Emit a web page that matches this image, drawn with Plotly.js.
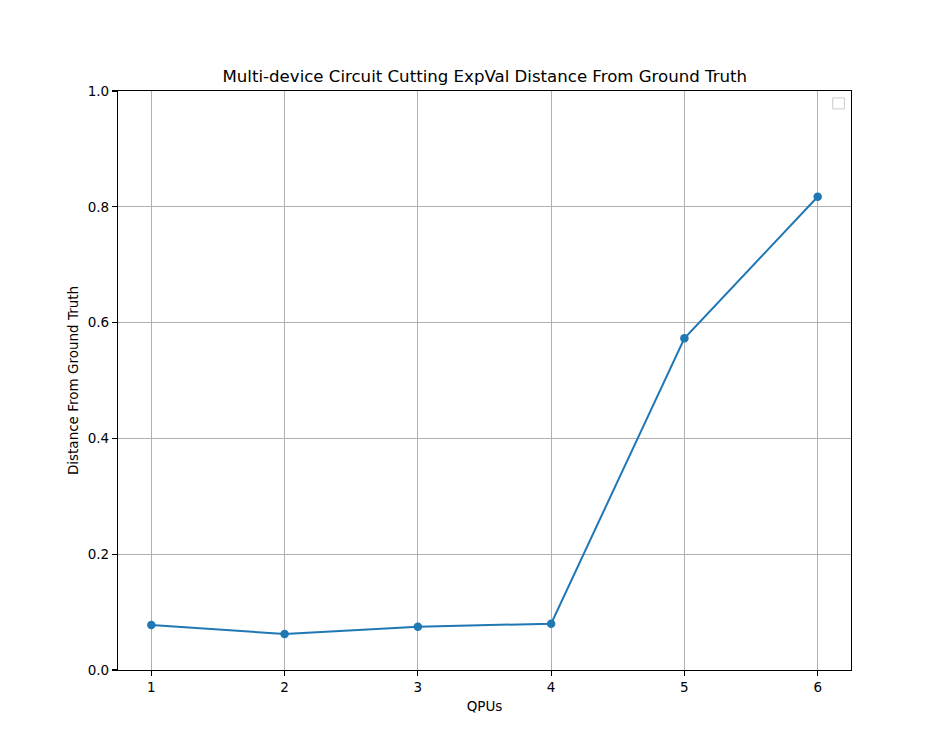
<!DOCTYPE html>
<html>
<head>
<meta charset="utf-8">
<script src="https://cdn.plot.ly/plotly-3.0.1.min.js"></script>
<style>
  html, body { margin: 0; padding: 0; background: #fff; }
  #myDiv { width: 946px; height: 752px; }
</style>
</head>
<body>
<div id="myDiv"></div>
<script>
// Datos
var qpus = [1, 2, 3, 4, 5, 6];
var distancia = [0.0777, 0.0621, 0.0748, 0.0800, 0.5730, 0.8173];

var trace = {
    x: qpus,
    y: distancia,
    mode: 'lines+markers',
    line: { color: '#1f77b4', width: 2 },
    marker: { color: '#1f77b4', size: 8.5 },
    showlegend: false
};

var ejeComun = {
    showline: true,
    linecolor: '#000',
    linewidth: 1.1,
    mirror: true,
    ticks: 'outside',
    ticklen: 5,
    tickwidth: 1.1,
    tickcolor: '#000',
    showgrid: true,
    gridcolor: '#b0b0b0',
    gridwidth: 1.1,
    zeroline: false,
    tickfont: { size: 13.5, color: '#000' }
};

var layout = {
    width: 946,
    height: 752,
    paper_bgcolor: '#fff',
    plot_bgcolor: '#fff',
    font: { family: 'DejaVu Sans, sans-serif', color: '#000' },
    margin: { l: 118, r: 95, t: 91, b: 82 },
    title: {
        text: 'Multi-device Circuit Cutting ExpVal Distance From Ground Truth',
        font: { size: 16.6, color: '#000' },
        x: 0.5125, xanchor: 'center',
        y: 1 - 76 / 752, yanchor: 'middle'
    },
    xaxis: Object.assign({}, ejeComun, {
        range: [0.75, 6.25],
        tickvals: qpus,
        ticktext: qpus.map(String),
        title: { text: 'QPUs', font: { size: 13.5 }, standoff: 7 }
    }),
    yaxis: Object.assign({}, ejeComun, {
        range: [0, 1],
        dtick: 0.2,
        tickformat: '.1f',
        title: { text: 'Distance From Ground Truth', font: { size: 13.5 }, standoff: 6 }
    }),
    shapes: [{
        // caja de leyenda vacia
        type: 'rect', xref: 'paper', yref: 'paper',
        x0: 0.975, x1: 0.991, y0: 0.969, y1: 0.988,
        line: { color: '#cccccc', width: 1 },
        fillcolor: '#fff'
    }]
};

var config = { staticPlot: true, displayModeBar: false };

Plotly.newPlot('myDiv', [trace], layout, config);
</script>
</body>
</html>
